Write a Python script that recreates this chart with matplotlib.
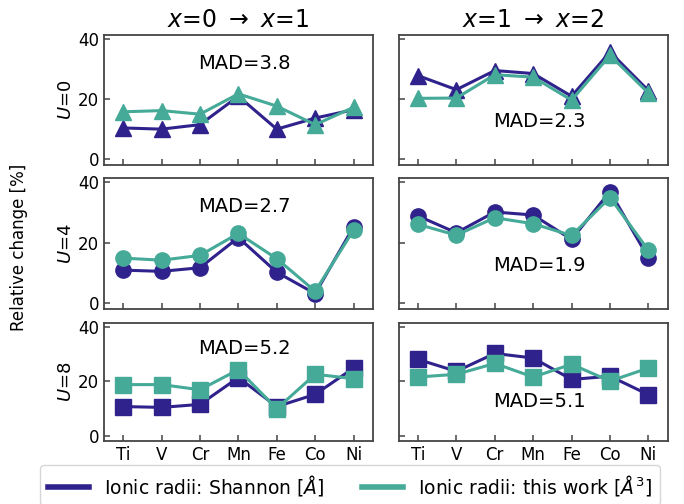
import matplotlib
matplotlib.use('Agg')
import matplotlib.pyplot as plt
from matplotlib.lines import Line2D

elements = ['Ti', 'V', 'Cr', 'Mn', 'Fe', 'Co', 'Ni']

# relative change [%] of ionic radii, x=0 -> x=1 and x=1 -> x=2, for U = 0, 4, 8
shannon_u0_01 = [10.4, 10.0, 11.5, 21.0, 10.0, 13.7, 16.5]
work_u0_01 = [15.8, 16.2, 15.0, 21.8, 17.7, 11.5, 17.3]
shannon_u0_12 = [27.9, 23.2, 29.6, 28.6, 21.0, 35.8, 22.9]
work_u0_12 = [20.3, 20.4, 28.2, 27.4, 19.7, 34.7, 22.1]

shannon_u4_01 = [10.9, 10.5, 11.7, 21.7, 10.2, 3.1, 25.3]
work_u4_01 = [14.9, 14.2, 15.8, 23.1, 14.7, 3.9, 24.2]
shannon_u4_12 = [28.9, 23.3, 30.2, 29.2, 21.1, 37.0, 15.0]
work_u4_12 = [26.1, 22.5, 28.3, 26.3, 22.4, 35.0, 17.5]

shannon_u8_01 = [10.7, 10.4, 11.5, 21.4, 10.7, 15.2, 24.9]
work_u8_01 = [18.8, 18.8, 16.9, 24.3, 9.9, 22.6, 21.0]
shannon_u8_12 = [28.1, 23.7, 30.3, 28.6, 20.7, 21.9, 15.1]
work_u8_12 = [21.6, 22.6, 26.6, 21.6, 26.3, 20.1, 24.9]

u_values = [0, 4, 8]
markers = ['^', 'o', 's']
mad_left = ['MAD=3.8', 'MAD=2.7', 'MAD=5.2']
mad_right = ['MAD=2.3', 'MAD=1.9', 'MAD=5.1']
titles = [r'$x$=0 $\rightarrow$ $x$=1', r'$x$=1 $\rightarrow$ $x$=2']

c_shannon = '#30228c'
c_work = '#45aa98'


def style_axis(ax, show_xlabels, show_ylabels):
    ax.set_xlim(-0.5, 6.5)
    ax.set_ylim(-2, 41.5)
    ax.set_yticks([0, 20, 40])
    ax.set_xticks(range(len(elements)))
    ax.tick_params(direction='in', length=4, width=1.1, labelsize=12,
                   color='#444444')
    if show_xlabels:
        ax.set_xticklabels(elements)
    else:
        ax.set_xticklabels([])
    if not show_ylabels:
        ax.set_yticklabels([])
    for sp in ax.spines.values():
        sp.set_color('#444444')
        sp.set_linewidth(1.3)


fig = plt.figure(figsize=(6.84, 5.04), dpi=100)

# panel boxes in figure fractions
col_left = [0.152, 0.583]
col_width = 0.393
rows = [(0.6726, 0.258), (0.3869, 0.26), (0.125, 0.234)]

data = [
    [(shannon_u0_01, work_u0_01), (shannon_u0_12, work_u0_12)],
    [(shannon_u4_01, work_u4_01), (shannon_u4_12, work_u4_12)],
    [(shannon_u8_01, work_u8_01), (shannon_u8_12, work_u8_12)],
]

x = list(range(len(elements)))
for i, (bottom, height) in enumerate(rows):
    for j in range(2):
        ax = fig.add_axes([col_left[j], bottom, col_width, height])
        shannon, work = data[i][j]
        ax.plot(x, shannon, color=c_shannon, lw=2.2, marker=markers[i],
                ms=11, zorder=2)
        ax.plot(x, work, color=c_work, lw=2.2, marker=markers[i],
                ms=11, zorder=3)
        style_axis(ax, i == 2, j == 0)
        if j == 0:
            ax.text(3.15, 32, mad_left[i], ha='center', va='center', fontsize=14)
            ax.set_ylabel('$U$=%d' % u_values[i], fontsize=13, labelpad=2)
        else:
            ax.text(3.15, 12.5, mad_right[i], ha='center', va='center', fontsize=14)
        if i == 0:
            ax.set_title(titles[j], fontsize=17)

fig.text(0.028, 0.51, 'Relative change [%]', rotation=90, ha='center',
         va='center', fontsize=12)

handles = [Line2D([0], [0], color=c_shannon, lw=4),
           Line2D([0], [0], color=c_work, lw=4)]
labels = [r'Ionic radii: Shannon [$\AA$]', r'Ionic radii: this work [$\AA^3$]']
fig.legend(handles, labels, loc='upper center', bbox_to_anchor=(0.512, 0.077),
           borderaxespad=0, ncol=2, fontsize=13.5, handlelength=2.2,
           frameon=True)

fig.savefig('out.png', dpi=100)
